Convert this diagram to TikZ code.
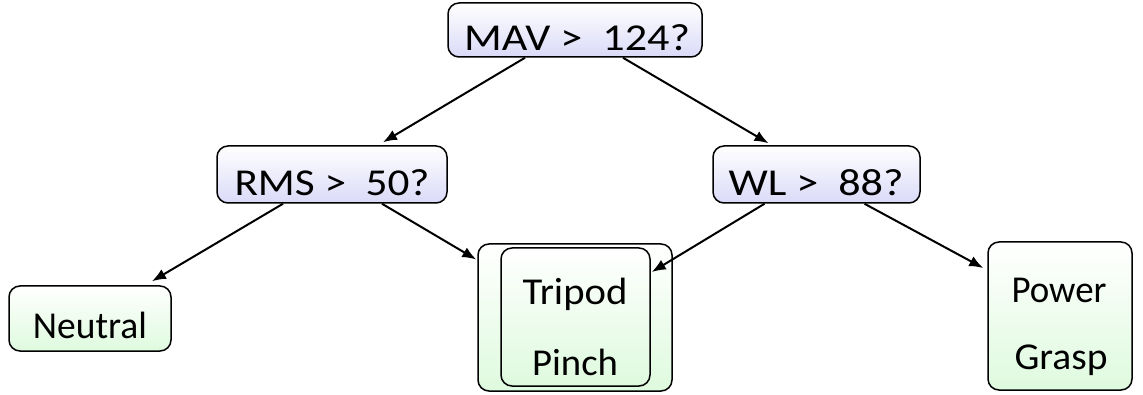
\documentclass[tikz,border=0pt]{standalone}
\usepackage{fontspec}
\usepackage{graphicx}
\setmainfont{Carlito}
\usetikzlibrary{arrows.meta,calc}
\definecolor{lav}{RGB}{218,218,248}
\definecolor{mint}{RGB}{222,250,222}
\newcommand\fitw[2]{\resizebox{#1}{\height}{#2}}
\begin{document}
\begin{tikzpicture}[x=1pt,y=-1pt,
  qbox/.style={draw=black, line width=1.5pt, rounded corners=11pt, top color=white, bottom color=lav, inner sep=0pt},
  lbox/.style={draw=black, line width=1.5pt, rounded corners=11pt, top color=white, bottom color=mint, inner sep=0pt},
  txt/.style={font=\fontsize{38}{44}\selectfont, inner sep=0pt, anchor=base},
  arr/.style={line width=2pt, -{Latex[length=14pt,width=11pt]}}]
\useasboundingbox (0,0) rectangle (1143,395);
% boxes
\node[qbox, minimum width=254pt, minimum height=54pt] (mav) at (575,30) {};
\node[qbox, minimum width=230pt, minimum height=57pt] (rms) at (332,174.5) {};
\node[qbox, minimum width=207pt, minimum height=57pt] (wl) at (816.5,174.5) {};
\node[lbox, minimum width=162pt, minimum height=65pt] (neutral) at (90,318.5) {};
\node[lbox, minimum width=194pt, minimum height=147pt] (outer) at (575,317.5) {};
\node[lbox, minimum width=149pt, minimum height=138pt] (inner) at (575.5,317) {};
\node[lbox, minimum width=144pt, minimum height=148pt] (power) at (1060,316) {};
% texts
\node[txt] (mavt) at (577,51) {\fitw{226pt}{MAV > \ 124?}};
\node[txt] (rmst) at (332,196) {\fitw{195pt}{RMS > \ 50?}};
\node[txt] (wlt) at (816,196) {\fitw{175pt}{WL > \ 88?}};
\node[txt] (neutralt) at (90,338) {\fitw{114pt}{Neutral}};
\node[txt] (tripodt) at (575,305) {\fitw{105pt}{Tripod}};
\node[txt] (pincht) at (575,375) {\fitw{86pt}{Pinch}};
\node[txt] (powert) at (1059,302) {\fitw{95pt}{Power}};
\node[txt] (graspt) at (1061,369) {\fitw{93pt}{Grasp}};
% arrows
\draw[arr] ($(mav.south)+(-50,0)$) -- ($(rms.north)+(51,-3)$);
\draw[arr] ($(mav.south)+(48,0)$) -- ($(wl.north)+(-48,-2)$);
\draw[arr] ($(rms.south)+(-49,0)$) -- ($(neutral.north)+(62,-4)$);
\draw[arr] ($(rms.south)+(50,0)$) -- ($(outer.west)+(-1,-58)$);
\draw[arr] ($(wl.south)+(-52,0)$) -- ($(inner.east)+(1,-45)$);
\draw[arr] ($(wl.south)+(48,0)$) -- ($(power.west)+(-4,-48)$);
\end{tikzpicture}
\end{document}
